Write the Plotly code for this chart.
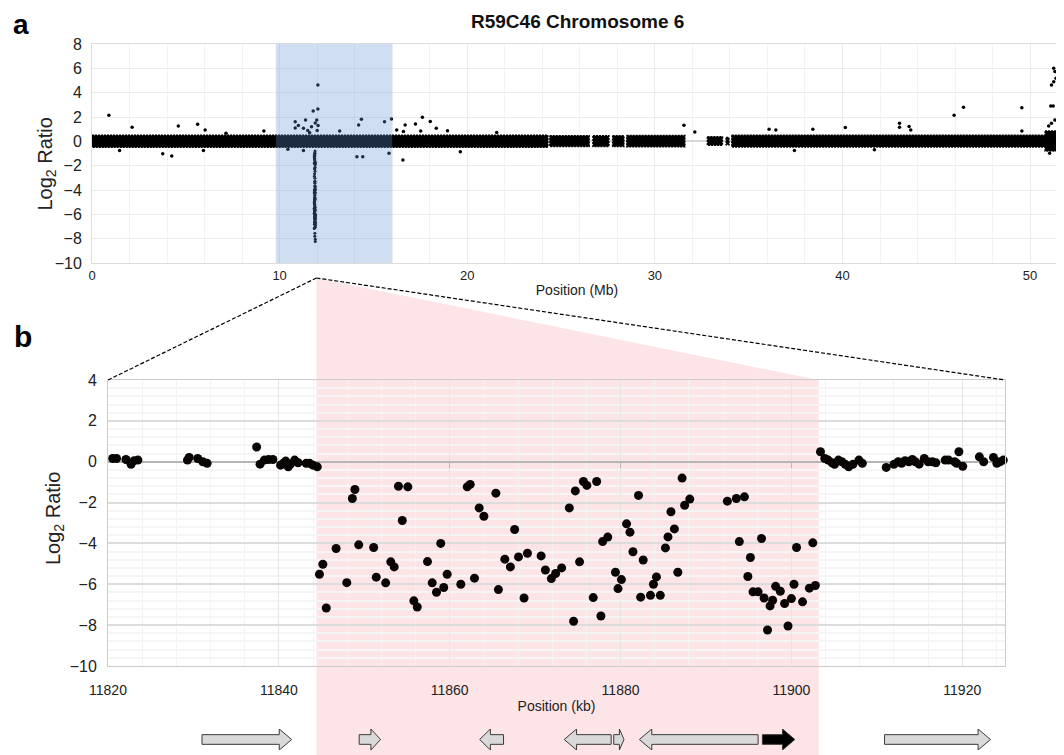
import plotly.graph_objects as go

W, H = 1064, 755          # browser window
OFF = 8                   # page body margin around the figure
FW, FH = W - OFF, H - OFF  # figure size so it fills the window exactly

# ---------------- panel a : whole chromosome (Mb) ----------------
# dense probe band, read as segments (start, end, upper edge, lower edge)
band_start = [0.0, 24.4, 26.7, 27.75, 28.5, 32.8, 33.8, 34.1, 50.8]
band_end = [24.3, 26.5, 27.55, 28.35, 31.6, 33.6, 33.95, 50.8, 51.55]
band_top = [0.50, 0.45, 0.45, 0.45, 0.47, 0.38, 0.32, 0.50, 0.85]
band_bot = [-0.48, -0.42, -0.42, -0.42, -0.45, -0.33, -0.28, -0.46, -0.80]

# scattered outlier probes
out_mb = [0.90, 2.14, 4.60, 5.63, 6.03, 3.77, 4.25, 1.47, 5.94, 7.14, 9.16,
          12.04, 12.04, 11.79, 11.98, 11.38, 10.83, 10.83, 11.27, 14.36, 14.21,
          15.59, 15.96, 16.24, 16.69, 17.61, 17.24, 18.03, 18.35, 18.95, 16.57,
          14.12, 14.43, 15.83, 13.20, 19.63, 21.57, 16.60, 17.52, 10.44, 11.27,
          11.00, 11.50, 11.70, 11.90, 12.05, 11.60, 12.00,
          31.55, 32.13, 36.09, 36.45, 38.42, 40.15, 43.04, 43.04, 43.55, 43.64,
          45.95, 46.45, 49.56, 49.56, 51.10, 51.23, 51.14, 51.26, 51.38, 51.32,
          51.26, 51.32, 50.99, 51.14, 37.44, 41.70, 51.04]
out_log2 = [2.14, 1.16, 1.27, 1.40, 0.94, -1.03, -1.20, -0.76, -0.76, 0.66, 0.85,
            4.63, 2.66, 2.50, 1.76, 1.76, 1.60, 1.10, 1.08, 1.81, 1.35,
            1.60, 1.84, 0.94, 1.35, 1.98, 1.43, 1.62, 1.08, 0.88, -1.53,
            -1.26, -1.26, -0.98, 0.85, -0.85, 0.72, 0.80, 0.85, -0.65, -0.76,
            1.30, 0.90, 1.20, 1.50, 1.30, 0.70, 0.90,
            1.32, 0.77, 0.99, 0.94, 0.99, 1.13, 1.49, 1.16, 1.21, 0.94,
            2.14, 2.80, 2.77, 0.85, 2.90, 2.90, 4.63, 4.90, 5.18, 5.73,
            6.00, 1.76, 1.27, 1.49, -0.76, -0.70, -0.98]

highlight_mb = (9.8, 16.0)

# ---------------- panel b : zoom (kb) ----------------
probe_kb = [
    11820.55, 11821.0, 11822.1, 11822.7, 11823.05, 11823.5, 11829.3, 11829.5,
    11830.5, 11831.1, 11831.6, 11837.4, 11837.8, 11838.3, 11838.8, 11839.3,
    11840.2, 11840.5, 11840.8, 11841.1, 11841.35, 11841.85, 11842.25, 11843.2,
    11843.6, 11844.0, 11844.5,
    11844.75, 11845.15, 11845.55, 11846.7, 11847.95, 11848.6, 11848.9, 11849.35,
    11851.1, 11851.4, 11852.5, 11853.1, 11853.5, 11854.0, 11854.45, 11855.1,
    11855.8, 11856.2, 11857.4, 11857.95, 11858.45, 11858.95, 11859.3, 11859.7,
    11861.3, 11862.05, 11862.4, 11862.9, 11863.45, 11864.0, 11865.4, 11865.7,
    11866.45, 11867.1, 11867.6, 11868.05, 11868.7, 11869.1, 11870.7, 11871.2,
    11871.9, 11872.4, 11873.1, 11874.0, 11874.5, 11874.7, 11875.2, 11875.65,
    11876.05, 11876.8, 11877.2, 11877.7, 11877.9, 11878.5, 11879.4, 11879.7,
    11880.1, 11880.7, 11881.1, 11881.45, 11882.1, 11882.35, 11882.65, 11883.5,
    11883.85, 11884.2, 11884.65, 11885.25, 11885.55, 11885.9, 11886.3, 11886.7,
    11887.2, 11887.5, 11888.1, 11892.5, 11893.55, 11893.9, 11894.5, 11894.9,
    11895.2, 11895.5, 11896.1, 11896.5, 11896.8, 11897.2, 11897.5, 11897.8,
    11898.15, 11898.7, 11899.2, 11899.6, 11900.0, 11900.3, 11900.6, 11901.3,
    11902.1, 11902.5, 11902.8,
    11903.4, 11903.9, 11904.3, 11904.75, 11905.05, 11905.5, 11905.9, 11906.3,
    11906.7, 11907.2, 11907.9, 11908.3, 11911.1, 11912.0, 11912.5, 11912.9,
    11913.3, 11913.75, 11914.15, 11914.5, 11914.95, 11915.55, 11916.0, 11916.5,
    11916.9, 11918.0, 11918.4, 11919.1, 11919.6, 11919.35, 11920.05, 11922.0,
    11922.5, 11923.65, 11924.05, 11924.4, 11924.8, 11925.1]
probe_log2 = [
    0.16, 0.16, 0.11, -0.13, 0.05, 0.08, 0.08, 0.21,
    0.16, 0.00, -0.08, 0.72, -0.12, 0.08, 0.11, 0.11,
    -0.17, -0.08, 0.03, -0.25, -0.12, 0.08, -0.05, -0.08,
    -0.08, -0.17, -0.25,
    -5.51, -5.02, -7.16, -4.25, -5.92, -1.80, -1.36, -4.07,
    -4.20, -5.65, -5.93, -4.90, -5.15, -1.20, -2.88, -1.23,
    -6.81, -7.11, -4.89, -5.93, -6.39, -4.00, -6.16, -5.51,
    -6.00, -1.23, -1.11, -5.70, -2.26, -2.67, -1.54, -6.26,
    -4.77, -5.15, -3.32, -4.66, -6.67, -4.48, -4.61, -5.30,
    -5.72, -5.47, -5.20, -2.26, -7.81, -1.43, -4.90, -0.97,
    -1.16, -6.65, -0.97, -7.55, -3.91, -3.69, -5.41, -6.21,
    -5.77, -3.04, -3.45, -4.41, -1.65, -6.63, -4.81, -6.54,
    -6.00, -5.64, -6.54, -4.22, -3.68, -2.45, -3.29, -5.41,
    -0.80, -2.13, -1.83, -1.93, -1.80, -3.91, -1.72, -5.62,
    -4.69, -6.37, -6.37, -3.76, -6.67, -8.24, -7.06, -6.78,
    -6.10, -6.34, -6.94, -8.04, -6.70, -6.00, -4.20, -6.86,
    -6.19, -3.97, -6.06,
    0.49, 0.16, 0.08, -0.05, -0.13, 0.08, 0.00, -0.13,
    -0.25, -0.13, 0.08, -0.08, -0.28, -0.13, 0.00, -0.08,
    0.05, 0.00, 0.11, 0.00, -0.12, 0.16, 0.00, 0.00,
    -0.05, 0.08, 0.08, 0.00, 0.49, -0.08, -0.22, 0.24,
    0.00, 0.21, -0.08, 0.00, 0.08, 0.11]

deletion_kb = (11844.4, 11903.2)

# genes below panel b
gene_start = [11831.0, 11849.4, 11863.5, 11873.4, 11879.2, 11882.2, 11896.6, 11910.9]
gene_end = [11841.5, 11851.9, 11866.3, 11878.9, 11880.4, 11896.1, 11900.4, 11923.3]
gene_strand = ['+', '+', '-', '-', '+', '-', '+', '+']
gene_fill = ['#d9d9d9', '#d9d9d9', '#d9d9d9', '#d9d9d9', '#d9d9d9', '#d9d9d9', '#000000', '#d9d9d9']

# ---------------- geometry (page pixels -> paper) ----------------
TOP_X_PX, TOP_Y_PX = (92, 1062), (44, 263)
BOT_X_PX, BOT_Y_PX = (108, 1005), (380, 666)
GENE_Y_PX = (729, 750)
X1_RANGE, Y1_RANGE = [0, 51.7], [-10, 8]
X2_RANGE, Y2_RANGE = [11820, 11925], [-10, 4]


def px(p):
    return (p - OFF) / FW


def py(p):
    return 1 - (p - OFF) / FH


def dx(p):
    return [px(p[0]), px(p[1])]


def dy(p):
    return [py(p[1]), py(p[0])]


def kb_paper(kb):
    d = dx(BOT_X_PX)
    return d[0] + (kb - X2_RANGE[0]) / (X2_RANGE[1] - X2_RANGE[0]) * (d[1] - d[0])


def y2_paper(v):
    d = dy(BOT_Y_PX)
    return d[0] + (v - Y2_RANGE[0]) / (Y2_RANGE[1] - Y2_RANGE[0]) * (d[1] - d[0])


FONT = "Arial, Liberation Sans, sans-serif"
fig = go.Figure()

# band polygons
bx, by = [], []
for s, e, t, b in zip(band_start, band_end, band_top, band_bot):
    bx += [s, e, e, s, s, None]
    by += [t, t, b, b, t, None]
fig.add_trace(go.Scatter(x=bx, y=by, mode='lines', fill='toself', fillcolor='#000000',
                         line=dict(color='#000000', width=1.5, dash='2px,1px'),
                         hoverinfo='skip', showlegend=False, xaxis='x', yaxis='y'))
fig.add_trace(go.Scatter(x=out_mb, y=out_log2, mode='markers',
                         marker=dict(size=3.5, color='#000000'),
                         showlegend=False, xaxis='x', yaxis='y'))
# deleted probes seen at chromosome scale
col_x = [k / 1000 for k, v in zip(probe_kb, probe_log2) if deletion_kb[0] <= k <= deletion_kb[1]]
col_y = [v for k, v in zip(probe_kb, probe_log2) if deletion_kb[0] <= k <= deletion_kb[1]]
fig.add_trace(go.Scatter(x=col_x, y=col_y, mode='markers',
                         marker=dict(size=3, color='#000000'),
                         showlegend=False, xaxis='x', yaxis='y'))

# panel b probes
fig.add_trace(go.Scatter(x=probe_kb, y=probe_log2, mode='markers',
                         marker=dict(size=9, color='#0a0505'), cliponaxis=False,
                         showlegend=False, xaxis='x2', yaxis='y2'))
# zero-line tick marks helper axis
fig.add_trace(go.Scatter(x=[None], y=[None], mode='markers', showlegend=False,
                         xaxis='x4', yaxis='y2'))

# gene arrows
for s, e, st, col in zip(gene_start, gene_end, gene_strand, gene_fill):
    L = e - s
    head = min(1.45, 0.45 * L)
    if st == '+':
        xs = [s, e - head, e - head, e, e - head, e - head, s, s]
    else:
        xs = [e, s + head, s + head, s, s + head, s + head, e, e]
    ys = [0.27, 0.27, 0, 0.5, 1, 0.73, 0.73, 0.27]
    fig.add_trace(go.Scatter(x=xs, y=ys, mode='lines', fill='toself', fillcolor=col,
                             line=dict(color='#3a3a3a', width=1), hoverinfo='skip',
                             showlegend=False, xaxis='x3', yaxis='y3'))

apex_x = kb_paper(deletion_kb[0])
apex_y = py(278)
top2 = dy(BOT_Y_PX)[1]
x2d = dx(BOT_X_PX)
shapes = [
    dict(type='path', xref='paper', yref='paper', layer='below',
         path=f'M {apex_x},{apex_y} L {kb_paper(deletion_kb[1])},{top2} '
              f'L {kb_paper(deletion_kb[1])},{py(H + 5)} L {apex_x},{py(H + 5)} Z',
         fillcolor='#fde5e7', line=dict(width=0)),
    dict(type='line', xref='paper', yref='paper', x0=apex_x, y0=apex_y, x1=x2d[0], y1=top2,
         line=dict(color='#000000', width=1.2, dash='4px,2px')),
    dict(type='line', xref='paper', yref='paper', x0=apex_x, y0=apex_y, x1=x2d[1], y1=top2,
         line=dict(color='#000000', width=1.2, dash='4px,2px')),
    dict(type='rect', xref='x', yref='y', x0=highlight_mb[0], x1=highlight_mb[1],
         y0=Y1_RANGE[0], y1=Y1_RANGE[1], fillcolor='rgb(95,145,205)', opacity=0.3,
         layer='above', line=dict(width=0)),
]


def label(text, x, y, size, angle=0, color='#000', yanchor='middle'):
    return dict(text=text, x=px(x), y=py(y), xref='paper', yref='paper',
                showarrow=False, textangle=angle, borderpad=0,
                font=dict(size=size, color=color, family=FONT),
                xanchor='center', yanchor=yanchor)


ann = [
    label('<b>a</b>', 21, OFF, 28, yanchor='top'),
    label('<b>b</b>', 22.5, 336, 30),
    label('<b>R59C46 Chromosome 6</b>', 577, 21.5, 19, color='#111'),
    label('Log<sub>2</sub> Ratio', 46.5, 164, 20, angle=-90, color='#222'),
    label('Log<sub>2</sub> Ratio', 55, 519, 20, angle=-90, color='#222'),
]

tickfont = dict(family=FONT, size=14, color='#222')
fig.update_layout(
    width=FW, height=FH, autosize=False,
    margin=dict(l=0, r=0, t=0, b=0, pad=0, autoexpand=False),
    paper_bgcolor='white', plot_bgcolor='rgba(0,0,0,0)',
    font=dict(family=FONT, color='#222'),
    shapes=shapes, annotations=ann,
    xaxis=dict(domain=dx(TOP_X_PX), range=X1_RANGE, anchor='y', tickmode='array',
               tickvals=[0, 10, 20, 30, 40, 50], ticks='',
               tickfont=dict(family=FONT, size=13, color='#222'),
               showgrid=True, gridcolor='#ececec', gridwidth=1,
               minor=dict(dtick=2, showgrid=True, gridcolor='#f2f2f2'),
               showline=True, mirror=True, linecolor='#dddddd', zeroline=False,
               automargin=False,
               title=dict(text='Position (Mb)', font=dict(family=FONT, size=14, color='#222'),
                          standoff=3)),
    yaxis=dict(domain=dy(TOP_Y_PX), range=Y1_RANGE, anchor='x', dtick=2,
               ticks='outside', ticklen=6, tickcolor='rgba(0,0,0,0)',
               tickfont=dict(family=FONT, size=16, color='#222'),
               showgrid=True, gridcolor='#ececec', zeroline=True,
               zerolinecolor='#d6d6d6', zerolinewidth=1.5,
               showline=True, mirror=True, linecolor='#dddddd', automargin=False),
    xaxis2=dict(domain=dx(BOT_X_PX), range=X2_RANGE, anchor='y2', dtick=20, tick0=11820,
                tickformat='d',
                ticks='outside', ticklen=11, tickcolor='rgba(0,0,0,0)', tickfont=tickfont,
                showgrid=True, gridcolor='#e6e6e6',
                minor=dict(dtick=4, showgrid=True, gridcolor='#f3f3f3'),
                showline=True, mirror=True, linecolor='#cccccc', zeroline=False,
                automargin=False,
                title=dict(text='Position (kb)', font=dict(family=FONT, size=14, color='#222'),
                           standoff=4)),
    yaxis2=dict(domain=dy(BOT_Y_PX), range=Y2_RANGE, anchor='x2', dtick=2,
                ticks='outside', ticklen=7, tickcolor='rgba(0,0,0,0)',
                tickfont=dict(family=FONT, size=16, color='#222'),
                showgrid=True, gridcolor='#dcdcdc', gridwidth=1.5,
                minor=dict(dtick=0.4, showgrid=True, gridcolor='#f5f5f5'),
                zeroline=True, zerolinecolor='#b5b5b5', zerolinewidth=1.5,
                showline=True, mirror=True, linecolor='#cccccc', automargin=False),
    xaxis3=dict(domain=dx(BOT_X_PX), range=X2_RANGE, anchor='y3', visible=False,
                automargin=False),
    yaxis3=dict(domain=dy(GENE_Y_PX), range=[0, 1], anchor='x3', visible=False,
                automargin=False),
    xaxis4=dict(overlaying='x2', anchor='free', position=y2_paper(0), range=X2_RANGE,
                tickmode='array', tickvals=[11860, 11880, 11900], ticks='outside',
                ticklen=5, tickcolor='#b5b5b5', showticklabels=False, showgrid=False,
                showline=False, zeroline=False, automargin=False),
)

fig.write_html("out.html")
